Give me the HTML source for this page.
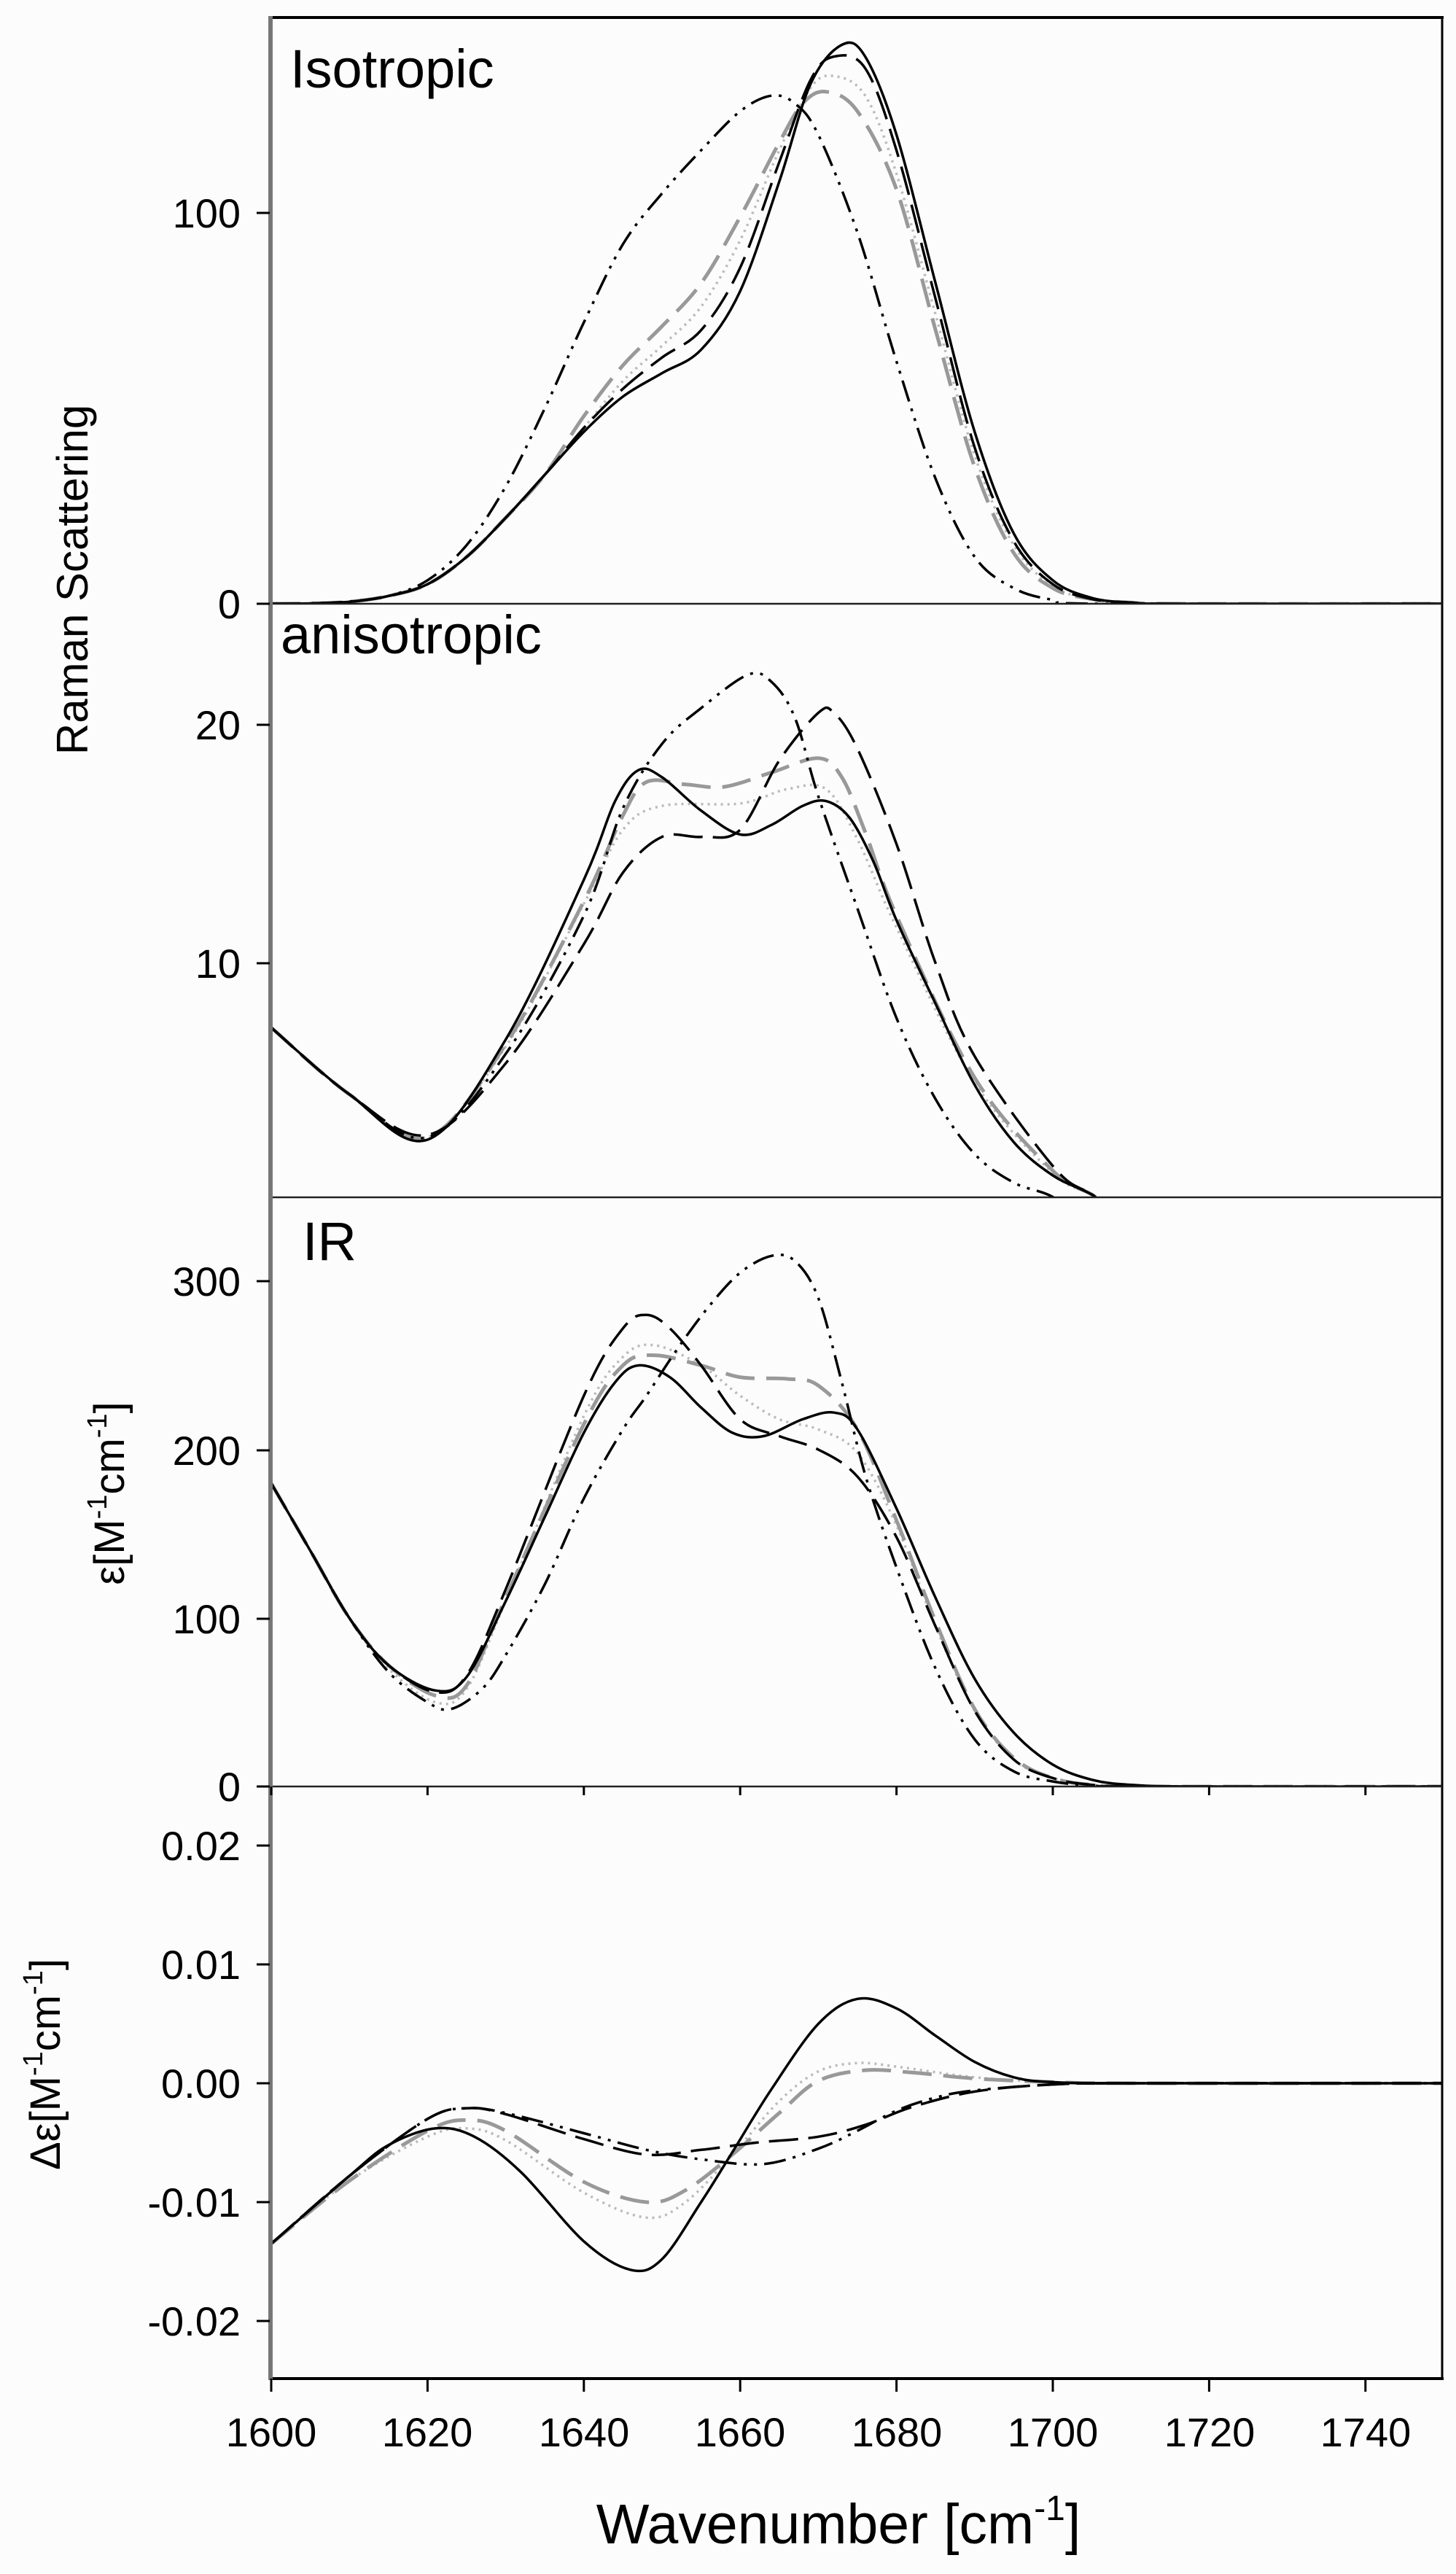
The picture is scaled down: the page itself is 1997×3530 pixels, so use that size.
<!DOCTYPE html>
<html><head><meta charset="utf-8"><style>
html,body{margin:0;padding:0;background:#fdfcfc;}
svg{display:block;}
text{font-family:"Liberation Sans",Arial,sans-serif;fill:#000;}
</style></head><body>
<svg id="s" width="1997" height="3530" viewBox="0 0 1997 3530" xmlns="http://www.w3.org/2000/svg">
<rect width="1997" height="3530" fill="#fdfcfc"/>
<defs>
<clipPath id="c1"><rect x="372" y="24" width="1606" height="804"/></clipPath>
<clipPath id="c2"><rect x="372" y="828" width="1606" height="814"/></clipPath>
<clipPath id="c3"><rect x="372" y="1642" width="1606" height="808"/></clipPath>
<clipPath id="c4"><rect x="372" y="2450" width="1606" height="812"/></clipPath>
</defs>
<g id="curves"></g>
<line x1="370" y1="24" x2="1980" y2="24" stroke="#000" stroke-width="4"/>
<line x1="1978" y1="24" x2="1978" y2="3262" stroke="#000" stroke-width="3"/>
<line x1="370" y1="3262" x2="1980" y2="3262" stroke="#000" stroke-width="4"/>
<line x1="370" y1="828" x2="1978" y2="828" stroke="#222" stroke-width="2.5"/>
<line x1="370" y1="1642" x2="1978" y2="1642" stroke="#222" stroke-width="2.5"/>
<line x1="370" y1="2450" x2="1978" y2="2450" stroke="#222" stroke-width="2.5"/>
<line x1="371" y1="22" x2="371" y2="3264" stroke="#777" stroke-width="6"/>
<g stroke="#000" stroke-width="3">
<line x1="352" y1="292" x2="370" y2="292"/><line x1="352" y1="828" x2="370" y2="828"/>
<line x1="352" y1="994" x2="370" y2="994"/><line x1="352" y1="1321" x2="370" y2="1321"/>
<line x1="352" y1="1757" x2="370" y2="1757"/><line x1="352" y1="1989" x2="370" y2="1989"/>
<line x1="352" y1="2220" x2="370" y2="2220"/><line x1="352" y1="2450" x2="370" y2="2450"/>
<line x1="352" y1="2531" x2="370" y2="2531"/><line x1="352" y1="2694" x2="370" y2="2694"/>
<line x1="352" y1="2857" x2="370" y2="2857"/><line x1="352" y1="3020" x2="370" y2="3020"/>
<line x1="352" y1="3183" x2="370" y2="3183"/>
</g>
<g id="xt" stroke="#000" stroke-width="3"></g>
<g font-size="56" text-anchor="end">
<text x="330" y="312">100</text><text x="330" y="848">0</text>
<text x="330" y="1014">20</text><text x="330" y="1341">10</text>
<text x="330" y="1777">300</text><text x="330" y="2009">200</text>
<text x="330" y="2240">100</text><text x="330" y="2470">0</text>
<text x="330" y="2551">0.02</text><text x="330" y="2714">0.01</text>
<text x="330" y="2877">0.00</text><text x="330" y="3040">-0.01</text>
<text x="330" y="3203">-0.02</text>
</g>
<g font-size="56" text-anchor="middle">
<text x="372" y="3355">1600</text><text x="586" y="3355">1620</text>
<text x="801" y="3355">1640</text><text x="1015" y="3355">1660</text>
<text x="1230" y="3355">1680</text><text x="1444" y="3355">1700</text>
<text x="1659" y="3355">1720</text><text x="1873" y="3355">1740</text>
</g>
<text x="1150" y="3488" font-size="77" text-anchor="middle">Wavenumber [cm<tspan font-size="48" dy="-32">-1</tspan><tspan dy="32">]</tspan></text>
<text x="398" y="120" font-size="74">Isotropic</text>
<text x="385" y="896" font-size="74">anisotropic</text>
<text x="415" y="1728" font-size="74">IR</text>
<text transform="translate(120,795) rotate(-90)" font-size="60" text-anchor="middle">Raman Scattering</text>
<text transform="translate(170,2048) rotate(-90)" font-size="58" text-anchor="middle">ε[M<tspan font-size="38" dy="-24">-1</tspan><tspan dy="24">cm</tspan><tspan font-size="38" dy="-24">-1</tspan><tspan dy="24">]</tspan></text>
<text transform="translate(82,2831) rotate(-90)" font-size="58" text-anchor="middle">Δε[M<tspan font-size="38" dy="-24">-1</tspan><tspan dy="24">cm</tspan><tspan font-size="38" dy="-24">-1</tspan><tspan dy="24">]</tspan></text>
</svg>
<script>
(function(){
var NS="http://www.w3.org/2000/svg";
function X(w){return 372+(w-1600)*10.72;}
var P=[
 {clip:"c1",y:function(v){return 828-5.36*v;}},
 {clip:"c2",y:function(v){return 1648-32.7*v;}},
 {clip:"c3",y:function(v){return 2450-2.31*v;}},
 {clip:"c4",y:function(v){return 2857-16300*v;}}
];
var ST={
 solid:{c:"#000",w:3.5,d:""},
 ldash:{c:"#000",w:3.5,d:"40 14"},
 dd:{c:"#000",w:3.5,d:"30 10 4 10 4 10"},
 gray:{c:"#999",w:5,d:"40 16"},
 dot:{c:"#bbb",w:3.5,d:"3 6"}
};
var L1=[[1600,0],[1605,0.1],[1610,0.5],[1615,2],[1620,5],[1625,12],[1630,22],[1635,33]];
var R0=[[1705,1.2],[1710,0.3],[1716,0],[1750,0]];
var D=[
[
 ["dot",L1.concat([[1640,45],[1645,57],[1650,66],[1655,76],[1660,93],[1665,116],[1669,132],[1672,135],[1676,130],[1680,110],[1685,74],[1690,38],[1695,15],[1700,4.5]]).concat(R0)],
 ["gray",L1.concat([[1640,48],[1645,61],[1650,71],[1655,82],[1660,99],[1665,118],[1668,128],[1671,131],[1675,126],[1680,106],[1685,70],[1690,35],[1695,13],[1700,4]]).concat(R0)],
 ["ldash",L1.concat([[1640,45],[1645,55],[1650,63],[1655,70],[1660,86],[1665,113],[1669,134],[1672,140],[1676,137],[1680,116],[1685,78],[1690,40],[1695,16],[1700,5]]).concat(R0)],
 ["solid",L1.concat([[1640,44],[1645,53],[1650,59],[1655,65],[1660,80],[1665,108],[1669,133],[1673,143],[1676,140],[1680,120],[1685,82],[1690,44],[1695,18],[1700,6],[1705,1.5],[1710,0.3],[1716,0],[1750,0]])],
 ["dd",[[1600,0],[1605,0.1],[1610,0.6],[1615,2],[1620,6],[1625,15],[1630,30],[1635,50],[1640,72],[1645,92],[1650,105],[1655,116],[1660,126],[1664,130],[1667,128],[1670,120],[1675,95],[1680,62],[1685,32],[1690,12],[1695,4],[1700,1],[1706,0],[1750,0]]]
],
[
 ["dot",[[1600,7.3],[1610,4.5],[1620,2.7],[1630,6.5],[1640,12.5],[1645,15.6],[1650,16.6],[1660,16.7],[1666,17.3],[1671,17.3],[1675,15.2],[1680,11.5],[1690,5],[1700,1.2],[1705,0.3],[1712,-1],[1750,-1]]],
 ["gray",[[1600,7.3],[1610,4.5],[1620,2.7],[1630,6.6],[1640,12.6],[1645,16.2],[1648,17.6],[1653,17.5],[1658,17.4],[1664,18],[1670,18.6],[1673,17.8],[1676,15.5],[1680,12],[1690,5.2],[1700,1.3],[1705,0.3],[1712,-1],[1750,-1]]],
 ["ldash",[[1600,7.3],[1610,4.5],[1620,2.8],[1630,5.8],[1640,10.8],[1645,13.8],[1650,15.3],[1655,15.3],[1660,15.6],[1665,18.5],[1670,20.5],[1672,20.5],[1675,19],[1680,15],[1685,10],[1690,6.1],[1700,1.5],[1705,0.3],[1712,-1],[1750,-1]]],
 ["solid",[[1600,7.3],[1610,4.5],[1620,2.6],[1630,6.8],[1640,13.5],[1644,16.8],[1647,18.1],[1650,17.8],[1655,16.4],[1660,15.4],[1664,15.8],[1668,16.6],[1671,16.8],[1674,16.1],[1677,14.3],[1680,11.8],[1685,8.3],[1690,4.9],[1695,2.5],[1700,1.1],[1705,0.3],[1712,-1],[1750,-1]]],
 ["dd",[[1600,7.3],[1610,4.5],[1620,2.7],[1630,6.2],[1640,12],[1645,16.5],[1650,19.2],[1655,20.7],[1661,22.1],[1664,21.8],[1667,20.3],[1670,17],[1675,12.3],[1680,7.7],[1685,4.3],[1690,2],[1695,0.8],[1700,0.2],[1705,-1],[1750,-1]]]
],
[
 ["dot",[[1600,180],[1605,140],[1610,100],[1615,70],[1621,50],[1625,58],[1630,110],[1640,220],[1645,255],[1649,262],[1655,250],[1660,232],[1665,218],[1670,212],[1675,198],[1680,155],[1685,95],[1690,45],[1695,16],[1700,5],[1705,1],[1712,0],[1750,0]]],
 ["gray",[[1600,180],[1605,140],[1610,100],[1615,72],[1621,54],[1625,60],[1630,112],[1640,215],[1645,250],[1649,256],[1655,250],[1660,243],[1666,242],[1670,238],[1675,212],[1680,158],[1685,98],[1690,46],[1695,17],[1700,5],[1705,1],[1712,0],[1750,0]]],
 ["ldash",[[1600,180],[1605,140],[1610,100],[1615,72],[1621,56],[1625,66],[1630,117],[1640,232],[1645,272],[1648,280],[1651,272],[1655,250],[1660,218],[1665,208],[1670,200],[1675,184],[1680,148],[1685,95],[1690,45],[1695,16],[1700,5],[1705,1],[1712,0],[1750,0]]],
 ["solid",[[1600,180],[1605,140],[1610,100],[1615,72],[1621,57],[1625,65],[1630,110],[1635,160],[1640,210],[1644,240],[1647,250],[1651,243],[1655,225],[1659,210],[1663,208],[1668,218],[1672,222],[1675,212],[1680,165],[1685,112],[1690,64],[1695,32],[1700,13],[1705,4],[1710,1],[1718,0],[1750,0]]],
 ["dd",[[1600,180],[1605,140],[1610,100],[1615,68],[1620,50],[1623,46],[1627,58],[1630,78],[1635,120],[1640,171],[1645,212],[1648,232],[1652,260],[1656,285],[1660,305],[1664,315],[1667,312],[1670,290],[1673,240],[1676,185],[1680,130],[1685,70],[1690,28],[1695,9],[1700,3],[1705,0.5],[1712,0],[1750,0]]]
],
[
 ["dot",[[1600,-0.0135],[1610,-0.0082],[1620,-0.0045],[1625,-0.0038],[1630,-0.0048],[1640,-0.0092],[1648,-0.0113],[1653,-0.0100],[1659,-0.0060],[1665,-0.0015],[1670,0.0010],[1675,0.0017],[1680,0.0014],[1690,0.0005],[1700,0.0001],[1710,0],[1750,0]]],
 ["gray",[[1600,-0.0135],[1610,-0.0082],[1620,-0.0040],[1625,-0.0031],[1630,-0.0040],[1640,-0.0083],[1648,-0.0100],[1653,-0.0090],[1659,-0.0060],[1665,-0.0025],[1670,0.0002],[1676,0.0011],[1682,0.0009],[1690,0.0004],[1700,0.0001],[1710,0],[1750,0]]],
 ["ldash",[[1600,-0.0135],[1610,-0.0078],[1620,-0.0030],[1625,-0.0021],[1630,-0.0026],[1640,-0.0047],[1648,-0.0060],[1655,-0.0056],[1662,-0.0050],[1670,-0.0045],[1676,-0.0035],[1682,-0.0020],[1690,-0.0007],[1700,-0.0001],[1710,0],[1750,0]]],
 ["solid",[[1600,-0.0135],[1610,-0.0078],[1615,-0.0052],[1621,-0.0038],[1626,-0.0045],[1632,-0.0075],[1640,-0.0133],[1646,-0.0157],[1650,-0.0148],[1655,-0.0100],[1659,-0.0058],[1664,-0.0005],[1670,0.0050],[1675,0.0071],[1680,0.0063],[1685,0.0040],[1690,0.0018],[1695,0.0005],[1700,0.0001],[1710,0],[1750,0]]],
 ["dd",[[1600,-0.0135],[1610,-0.0078],[1620,-0.0030],[1625,-0.0021],[1630,-0.0025],[1640,-0.0042],[1648,-0.0056],[1655,-0.0064],[1663,-0.0068],[1670,-0.0055],[1675,-0.0040],[1680,-0.0023],[1685,-0.0012],[1690,-0.0006],[1700,-0.0001],[1710,0],[1750,0]]]
]
];
var g=document.getElementById("curves");
D.forEach(function(series,pi){
 var p=P[pi];
 var grp=document.createElementNS(NS,"g");
 grp.setAttribute("clip-path","url(#"+p.clip+")");
 series.forEach(function(s){
  var pts=s[1].map(function(q){return [X(q[0]),p.y(q[1])];});
  var d="M"+pts[0][0].toFixed(1)+","+pts[0][1].toFixed(1);
  for(var i=0;i<pts.length-1;i++){
   var p0=pts[Math.max(0,i-1)],p1=pts[i],p2=pts[i+1],p3=pts[Math.min(pts.length-1,i+2)];
   var t=1/6;
   var c1x=p1[0]+(p2[0]-p0[0])*t,c1y=p1[1]+(p2[1]-p0[1])*t;
   var c2x=p2[0]-(p3[0]-p1[0])*t,c2y=p2[1]-(p3[1]-p1[1])*t;
   d+=" C"+c1x.toFixed(1)+","+c1y.toFixed(1)+" "+c2x.toFixed(1)+","+c2y.toFixed(1)+" "+p2[0].toFixed(1)+","+p2[1].toFixed(1);
  }
  var st=ST[s[0]];
  var el=document.createElementNS(NS,"path");
  el.setAttribute("d",d);el.setAttribute("fill","none");
  el.setAttribute("stroke",st.c);el.setAttribute("stroke-width",st.w);
  if(st.d)el.setAttribute("stroke-dasharray",st.d);
  el.setAttribute("stroke-linejoin","round");
  grp.appendChild(el);
 });
 g.appendChild(grp);
});
var xt=document.getElementById("xt");
for(var w=1600;w<=1740;w+=20){
 [[3262,3280],[2450,2462]].forEach(function(r){
  var l=document.createElementNS(NS,"line");
  l.setAttribute("x1",X(w));l.setAttribute("x2",X(w));
  l.setAttribute("y1",r[0]);l.setAttribute("y2",r[1]);
  xt.appendChild(l);
 });
}
})();
</script>
</body></html>
